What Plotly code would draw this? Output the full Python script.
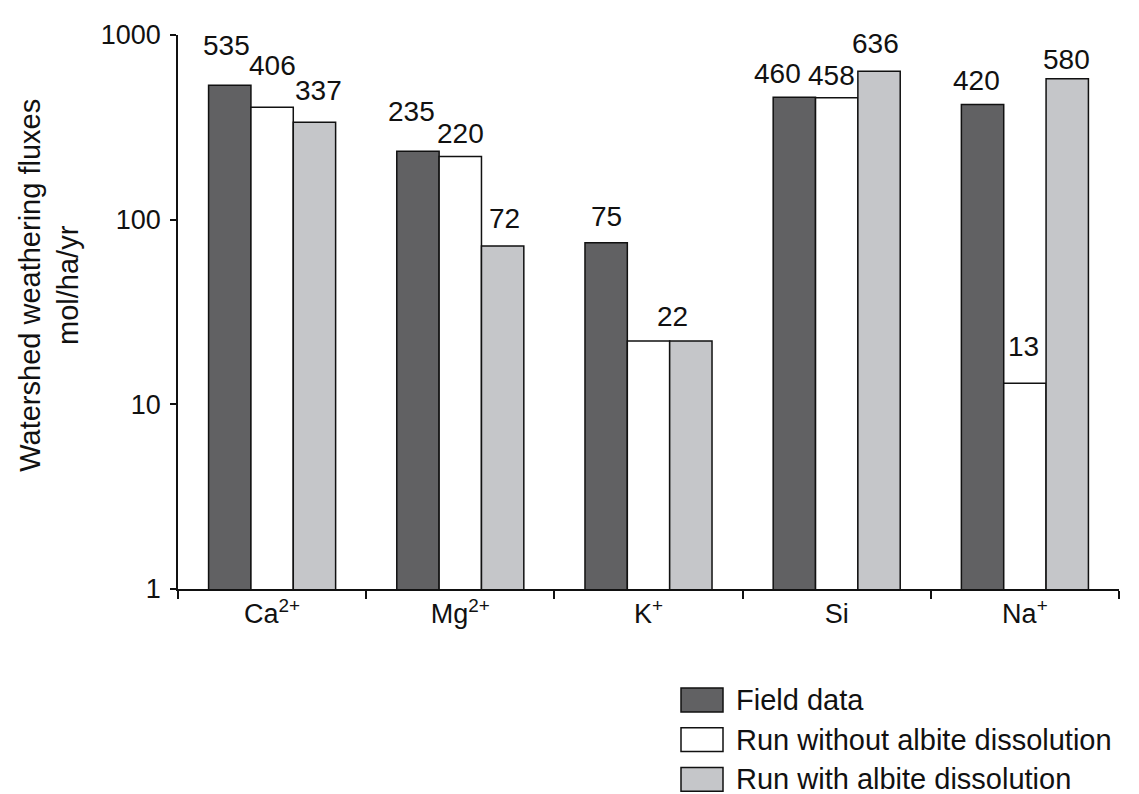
import math
import plotly.graph_objects as go

categories = ["Ca<sup>2+</sup>", "Mg<sup>2+</sup>", "K<sup>+</sup>", "Si", "Na<sup>+</sup>"]
series_names = ["Field data", "Run without albite dissolution", "Run with albite dissolution"]
field_data = [535, 235, 75, 460, 420]
run_without_albite = [406, 220, 22, 458, 13]
run_with_albite = [337, 72, 22, 636, 580]
y_tick_vals = [1, 10, 100, 1000]
y_tick_text = ["1", "10", "100", "1000"]

colors = ["#616163", "#ffffff", "#c5c6c9"]
FONT = "Liberation Sans, Arial, Helvetica, sans-serif"
INK = "#111111"

# page offset (browser body margin) compensation
OFF = 8
W, H = 1139 - OFF, 794 - OFF
L, R, T, B = 178 - OFF, 20, 30 - OFF, 205
plot_w = W - L - R
plot_h = H - T - B

fig = go.Figure()
all_series = [field_data, run_without_albite, run_with_albite]
for name, vals, col in zip(series_names, all_series, colors):
    fig.add_trace(go.Bar(
        x=categories, y=vals, name=name,
        marker=dict(color=col, line=dict(color=INK, width=1.5)),
        showlegend=False,
    ))

# label placement style: (series, category) -> (x nudge px, gap above bar top px); None hides
label_style = {
    (0, 0): (-3, 28), (1, 0): (0, 30), (2, 0): (4, 20),
    (0, 1): (-6, 28), (1, 1): (0, 11), (2, 1): (2, 16),
    (0, 2): (0, 15), (1, 2): None, (2, 2): (-18, 13),
    (0, 3): (-17, 12), (1, 3): (-5, 11), (2, 3): (-4, 16),
    (0, 4): (-6, 13), (1, 4): (-1, 25), (2, 4): (-1, 8),
}

n_cat = len(categories)
bargap = 0.325
cat_px = plot_w / n_cat
bar_px = cat_px * (1 - bargap) / 3
BASE_DROP = 6  # distance from annotation box bottom to text baseline
for si, vals in enumerate(all_series):
    for ci, v in enumerate(vals):
        st = label_style.get((si, ci), (0, 12))
        if st is None:
            continue
        dx, gap = st
        fig.add_annotation(
            x=categories[ci], y=math.log10(v),
            xref="x", yref="y",
            text=str(v), showarrow=False,
            xshift=(si - 1) * bar_px + dx, yshift=gap - BASE_DROP,
            yanchor="bottom", xanchor="center",
            font=dict(family=FONT, size=28, color=INK),
        )

def px_x(p):
    return (p - 178) / plot_w

def px_y(p):
    return (589 - p) / plot_h

# y-axis title
fig.add_annotation(
    x=px_x(49), y=px_y(283), xref="paper", yref="paper",
    text="Watershed weathering fluxes<br>mol/ha/yr", showarrow=False,
    textangle=-90, xanchor="center", yanchor="middle",
    font=dict(family=FONT, size=29, color=INK),
)

# custom legend
legend_rows = [701, 741, 781]
for name, col, yc in zip(series_names, colors, legend_rows):
    fig.add_shape(
        type="rect", xref="paper", yref="paper",
        x0=px_x(681), x1=px_x(723), y0=px_y(yc + 12), y1=px_y(yc - 12),
        fillcolor=col, line=dict(color=INK, width=1.5),
    )
    fig.add_annotation(
        x=px_x(734), y=px_y(yc), xref="paper", yref="paper",
        text=name, showarrow=False, xanchor="left", yanchor="middle",
        font=dict(family=FONT, size=29, color=INK),
    )

fig.update_layout(
    width=W, height=H,
    margin=dict(l=L, r=R, t=T, b=B),
    paper_bgcolor="white", plot_bgcolor="white",
    barmode="group", bargap=bargap, bargroupgap=0,
    font=dict(family=FONT, size=27, color=INK),
    showlegend=False,
)
fig.update_xaxes(
    showline=True, linecolor=INK, linewidth=1.5,
    ticks="outside", tickson="boundaries", ticklen=8, tickwidth=1.5, tickcolor=INK,
    showgrid=False, tickfont=dict(family=FONT, size=27, color=INK),
    range=[-0.5, 4.5],
)
fig.update_yaxes(
    type="log", range=[0, 3],
    tickvals=y_tick_vals, ticktext=y_tick_text,
    showline=True, linecolor=INK, linewidth=1.5,
    ticks="outside", ticklen=6, tickwidth=1.5, tickcolor=INK,
    showgrid=False, zeroline=False, ticklabelstandoff=4,
    tickfont=dict(family=FONT, size=27, color=INK),
)

fig.write_html("out.html")
